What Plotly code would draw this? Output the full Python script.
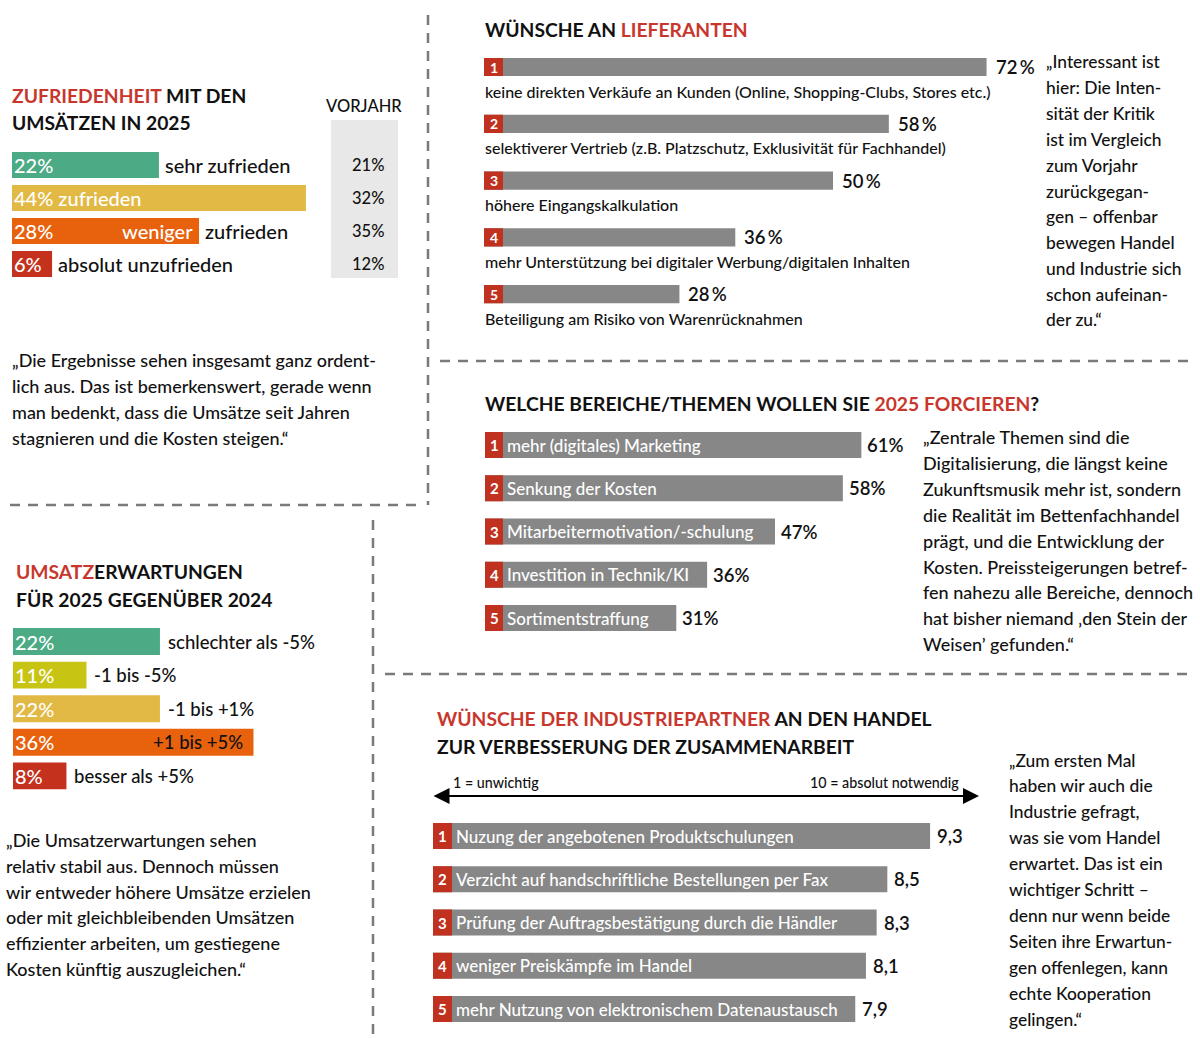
import plotly.graph_objects as go

# ---------------- data ----------------
sat_labels = ["sehr zufrieden", "zufrieden", "weniger zufrieden", "absolut unzufrieden"]
sat_values = [22, 44, 28, 6]
sat_prev = [21, 32, 35, 12]
sat_colors = ["#4caa85", "#e2b944", "#e8620e", "#c4321e"]

exp_labels = ["schlechter als -5%", "-1 bis -5%", "-1 bis +1%", "+1 bis +5%", "besser als +5%"]
exp_values = [22, 11, 22, 36, 8]
exp_colors = ["#4caa85", "#c8c414", "#e2b944", "#e8620e", "#c4321e"]

sup_labels = [
    "keine direkten Verkäufe an Kunden (Online, Shopping-Clubs, Stores etc.)",
    "selektiverer Vertrieb (z.B. Platzschutz, Exklusivität für Fachhandel)",
    "höhere Eingangskalkulation",
    "mehr Unterstützung bei digitaler Werbung/digitalen Inhalten",
    "Beteiligung am Risiko von Warenrücknahmen",
]
sup_values = [72, 58, 50, 36, 28]

focus_labels = [
    "mehr (digitales) Marketing",
    "Senkung der Kosten",
    "Mitarbeitermotivation/-schulung",
    "Investition in Technik/KI",
    "Sortimentstraffung",
]
focus_values = [61, 58, 47, 36, 31]

ind_labels = [
    "Nuzung der angebotenen Produktschulungen",
    "Verzicht auf handschriftliche Bestellungen per Fax",
    "Prüfung der Auftragsbestätigung durch die Händler",
    "weniger Preiskämpfe im Handel",
    "mehr Nutzung von elektronischem Datenaustausch",
]
ind_values = [9.3, 8.5, 8.3, 8.1, 7.9]
scale_labels = ["1 = unwichtig", "10 = absolut notwendig"]

quote_sat = [
    "„Die Ergebnisse sehen insgesamt ganz ordent-",
    "lich aus. Das ist bemerkenswert, gerade wenn",
    "man bedenkt, dass die Umsätze seit Jahren",
    "stagnieren und die Kosten steigen.“",
]
quote_exp = [
    "„Die Umsatzerwartungen sehen",
    "relativ stabil aus. Dennoch müssen",
    "wir entweder höhere Umsätze erzielen",
    "oder mit gleichbleibenden Umsätzen",
    "effizienter arbeiten, um gestiegene",
    "Kosten künftig auszugleichen.“",
]
quote_sup = [
    "„Interessant ist", "hier: Die Inten-", "sität der Kritik", "ist im Vergleich",
    "zum Vorjahr", "zurückgegan-", "gen – offenbar", "bewegen Handel",
    "und Industrie sich", "schon aufeinan-", "der zu.“",
]
quote_focus = [
    "„Zentrale Themen sind die",
    "Digitalisierung, die längst keine",
    "Zukunftsmusik mehr ist, sondern",
    "die Realität im Bettenfachhandel",
    "prägt, und die Entwicklung der",
    "Kosten. Preissteigerungen betref-",
    "fen nahezu alle Bereiche, dennoch",
    "hat bisher niemand ‚den Stein der",
    "Weisen’ gefunden.“",
]
quote_ind = [
    "„Zum ersten Mal", "haben wir auch die", "Industrie gefragt,", "was sie vom Handel",
    "erwartet. Das ist ein", "wichtiger Schritt –", "denn nur wenn beide", "Seiten ihre Erwartun-",
    "gen offenlegen, kann", "echte Kooperation", "gelingen.“",
]

# ---------------- styling ----------------
W, H = 1200, 1038
FONT = "Lato"
INK = "#111111"
RED = "#c8372d"
BOX_RED = "#c0311f"
GREY = "#878787"
DASH = "#7a7a7a"

fig = go.Figure()
annos = []
shapes = []


def px(x):
    return x / W


def py(y):
    return 1 - y / H


def panel(n, left, px_per_unit, units, first_row, pitch, nrows):
    sx = "" if n == 1 else str(n)
    top = first_row - pitch / 2
    bottom = first_row + pitch * (nrows - 0.5)
    fig.update_layout(**{
        "xaxis" + sx: dict(domain=[px(left), px(left + px_per_unit * units)], range=[0, units],
                           visible=False, anchor="y" + sx, fixedrange=True),
        "yaxis" + sx: dict(domain=[py(bottom), py(top)], range=[nrows - 0.5, -0.5],
                           visible=False, anchor="x" + sx, fixedrange=True),
    })
    return "x" + sx, "y" + sx


def text(x, y, s, size=18, color=INK, xref="paper", yref="paper",
         xanchor="left", xshift=0, yshift=0, bold=False, weight=500):
    annos.append(dict(x=x, y=y, xref=xref, yref=yref, text=f"<b>{s}</b>" if bold else s,
                      showarrow=False, xanchor=xanchor, yanchor="middle",
                      xshift=xshift, yshift=yshift, borderpad=0,
                      font=dict(family=FONT, size=size, color=color, weight=weight)))


def title(x, y, s, size=19.3):
    text(px(x), py(y), s, size=size, bold=True, xshift=-1)


def red(s):
    return f'<span style="color:{RED}">{s}</span>'


def quote(x, y0, lines, size=18, step=25.9):
    for k, line in enumerate(lines):
        text(px(x), py(y0 + k * step), line, size=size, xshift=-1)


def dashed(x0, y0, x1, y1):
    shapes.append(dict(type="line", xref="paper", yref="paper",
                       x0=px(x0), y0=py(y0), x1=px(x1), y1=py(y1),
                       line=dict(color=DASH, width=2.5, dash="10px,8px")))


def hbar(xa, ya, values, colors, width):
    fig.add_trace(go.Bar(x=values, y=list(range(len(values))), orientation="h",
                         marker=dict(color=colors, line_width=0), width=width,
                         xaxis=xa, yaxis=ya, hoverinfo="skip"))


def number_boxes(xa, ya, n, box_px, scale, width, size):
    fig.add_trace(go.Bar(x=[box_px / scale] * n, y=list(range(n)), orientation="h",
                         marker=dict(color=BOX_RED, line_width=0), width=width,
                         xaxis=xa, yaxis=ya, hoverinfo="skip"))
    for i in range(n):
        text(0, i, str(i + 1), size, "white", xa, ya, xanchor="center", xshift=box_px / 2, bold=True)


# ---------------- Zufriedenheit ----------------
title(12, 95, red("ZUFRIEDENHEIT") + " MIT DEN")
title(12, 123, "UMSÄTZEN IN 2025")
xa, ya = panel(1, 12, 6.68, 60, 165, 33, len(sat_values))
hbar(xa, ya, sat_values, sat_colors, 0.79)
for i, (v, lab) in enumerate(zip(sat_values, sat_labels)):
    pct = f"{v}%"
    if v >= 40:
        text(0, i, f"{pct} {lab}", 20, "white", xa, ya, xshift=1)
    elif lab.startswith("weniger"):
        first, rest = lab.split(" ", 1)
        text(0, i, pct, 20, "white", xa, ya, xshift=1)
        text(v, i, first, 20, "white", xa, ya, xanchor="right", xshift=-5)
        text(v, i, rest, 20, INK, xa, ya, xshift=5)
    else:
        text(0, i, pct, 20, "white", xa, ya, xshift=1)
        text(v, i, lab, 20, INK, xa, ya, xshift=5)

shapes.append(dict(type="rect", xref="paper", yref="paper", x0=px(331), x1=px(398),
                   y0=py(278), y1=py(120), fillcolor="#e8e8e8", line_width=0, layer="below"))
text(px(364), py(106), "VORJAHR", 16.5, xanchor="center")
for i, v in enumerate(sat_prev):
    text(px(368), i, f"{v}%", 16.5, yref=ya, xanchor="center")
quote(12, 360, quote_sat)

# ---------------- Umsatzerwartungen ----------------
title(16, 571, red("UMSATZ") + "ERWARTUNGEN")
title(16, 599, "FÜR 2025 GEGENÜBER 2024")
xa, ya = panel(2, 13, 6.68, 60, 641.5, 33.6, len(exp_values))
hbar(xa, ya, exp_values, exp_colors, 0.8)
for i, (v, lab) in enumerate(zip(exp_values, exp_labels)):
    text(0, i, f"{v}%", 20, "white", xa, ya, xshift=1)
    if v >= 30:
        text(v, i, lab, 18.5, INK, xa, ya, xanchor="right", xshift=-9)
    else:
        text(v, i, lab, 18.5, INK, xa, ya, xshift=7)
quote(6, 840, quote_exp, step=25.8)

# ---------------- Wünsche an Lieferanten ----------------
title(485, 29, "WÜNSCHE AN " + red("LIEFERANTEN"))
scale = 6.98
xa, ya = panel(3, 484, scale, 80, 67, 56.8, len(sup_values))
hbar(xa, ya, sup_values, GREY, 0.32)
number_boxes(xa, ya, len(sup_values), 19, scale, 0.32, 14)
for i, (v, lab) in enumerate(zip(sup_values, sup_labels)):
    text(v, i, f"{v}\u2009%", 18.5, INK, xa, ya, xshift=8, weight=600)
    text(0, i, lab, 16, INK, xa, ya, xshift=0, yshift=-24)
quote(1046, 62, quote_sup, size=17.4, step=25.8)

# ---------------- Forcieren ----------------
title(485, 403, "WELCHE BEREICHE/THEMEN WOLLEN SIE " + red("2025 FORCIEREN") + "?")
scale = 6.17
xa, ya = panel(4, 485, scale, 100, 445, 43.25, len(focus_values))
hbar(xa, ya, focus_values, GREY, 0.6)
number_boxes(xa, ya, len(focus_values), 18, scale, 0.6, 15)
for i, (v, lab) in enumerate(zip(focus_values, focus_labels)):
    text(0, i, lab, 17, "white", xa, ya, xshift=21)
    text(v, i, f"{v}%", 18.5, INK, xa, ya, xshift=5, weight=600)
quote(923, 437, quote_focus)

# ---------------- Industriepartner ----------------
title(437, 718, red("WÜNSCHE DER INDUSTRIEPARTNER") + " AN DEN HANDEL")
title(437, 746, "ZUR VERBESSERUNG DER ZUSAMMENARBEIT")
scale = 53.45
xa, ya = panel(5, 433, scale, 10, 836, 43.25, len(ind_values))
hbar(xa, ya, ind_values, GREY, 0.6)
number_boxes(xa, ya, len(ind_values), 19, scale, 0.6, 15)
for i, (v, lab) in enumerate(zip(ind_values, ind_labels)):
    text(0, i, lab, 17, "white", xa, ya, xshift=22)
    text(v, i, f"{v:.1f}".replace(".", ","), 18.5, INK, xa, ya, xshift=6, weight=600)
annos.append(dict(x=px(979), y=py(796), ax=-(979 - 432), ay=0, xref="paper", yref="paper",
                  axref="pixel", ayref="pixel", text="", showarrow=True, arrowhead=2,
                  arrowside="end+start", arrowwidth=2, arrowsize=1.6, arrowcolor="black"))
text(px(452), py(782), scale_labels[0], 14.3)
text(px(960), py(782), scale_labels[1], 14.3, xanchor="right")
quote(1009, 760, quote_ind, size=17.4)

# ---------------- separators ----------------
dashed(428, 15, 428, 505)
dashed(10, 505, 420, 505)
dashed(373, 520, 373, 1038)
dashed(440, 361, 1190, 361)
dashed(385, 674, 1190, 674)

fig.update_layout(
    width=W, height=H, margin=dict(l=0, r=0, t=0, b=0),
    paper_bgcolor="white", plot_bgcolor="white",
    showlegend=False, barmode="overlay",
    annotations=annos, shapes=shapes,
    font=dict(family=FONT),
)
fig.write_html("out.html", config={"displayModeBar": False},
               post_script="document.body.style.margin='0';")
